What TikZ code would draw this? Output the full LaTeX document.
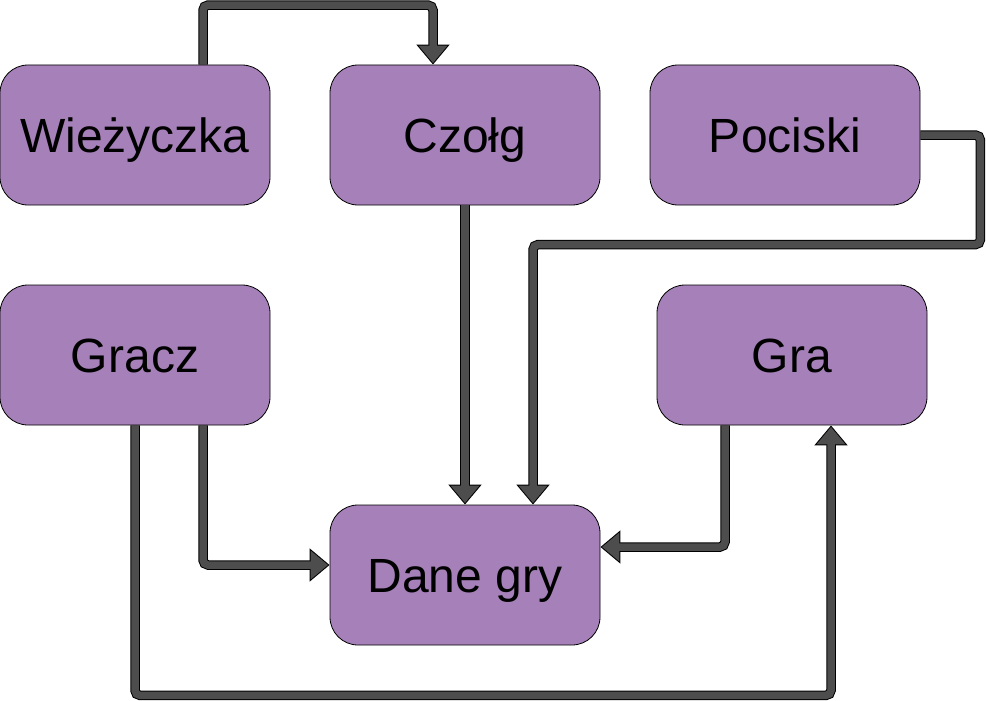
\documentclass[tikz,border=0pt]{standalone}
\usepackage{fontspec}
\setmainfont{Liberation Sans}
\usetikzlibrary{arrows.meta}
\definecolor{boxpurple}{HTML}{A680B8}
\definecolor{arrgray}{HTML}{4D4D4D}
\tikzset{
  block/.style={draw=black, fill=boxpurple, line width=0.8pt, rounded corners=28pt,
    minimum width=270pt, minimum height=140pt, text height=44pt, text depth=10pt,
    font=\fontsize{48}{56}\selectfont},
  conn/.style={draw=black, line width=9.5pt, rounded corners=5pt,
    -{Triangle[width=32pt,length=20pt]},
    postaction={draw=arrgray, line width=7.5pt, shorten >=1.6pt,
      -{Triangle[width=27.8pt,length=17.4pt]}}}
}

\begin{document}
\begin{tikzpicture}[x=1pt,y=-1pt]
\useasboundingbox (0,0) rectangle (986,701);
% top row
\node[block] (wiez) at (135,135) {Wieżyczka};
\node[block] (czolg) at (465,135) {Czołg};
\node[block] (pociski) at (785,135) {Pociski};
% middle row
\node[block] (gracz) at (135,355) {Gracz};
\node[block] (gra) at (792,355) {Gra};
% bottom
\node[block] (dane) at (465,575) {Dane gry};

% connectors
\draw[conn] ([xshift=68pt]wiez.north) |- ([xshift=-32pt,yshift=59.5pt]czolg.north) -- ([xshift=-32pt]czolg.north);
\draw[conn] (czolg.south) -- (dane.north);
\draw[conn] (pociski.east) -- ++(60,0) |- ([xshift=68pt,yshift=260pt]dane.north) -- ([xshift=68pt]dane.north);
\draw[conn] ([xshift=68pt]gracz.south) |- ([yshift=10pt]dane.west);
\draw[conn] (gracz.south) -- ++(0,270) -| ([xshift=39pt]gra.south);
\draw[conn] ([xshift=-67pt]gra.south) |- ([yshift=28pt]dane.east);
\end{tikzpicture}
\end{document}
